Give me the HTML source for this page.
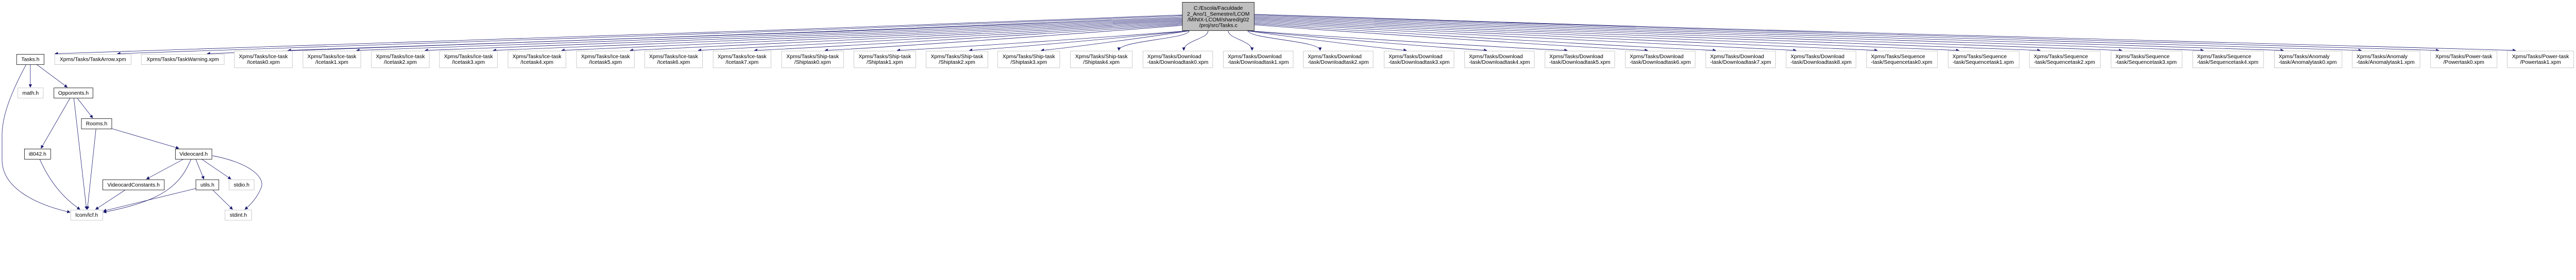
<!DOCTYPE html>
<html><head><meta charset="utf-8"><meta name="viewport" content="width=6280"><style>
html{margin:0;padding:0;background:#fff;overflow:hidden;}
body{margin:0;padding:0;background:#fff;overflow:hidden;font-family:"Liberation Sans",Arial,sans-serif;font-size:13px;color:#000;}
#w{position:absolute;left:0;top:0;width:6280px;height:544px;transform-origin:0 0;}
.n{position:absolute;box-sizing:border-box;background:#fff;border:1px solid #bfbfbf;line-height:14px;text-align:center;white-space:nowrap;overflow:hidden;}
.b{border:1px solid #000;}
.s{height:26px;padding-top:5px;}
.d{height:42px;padding-top:6px;top:124px;}
.l{text-align:left;padding-left:10px;}
svg{position:absolute;left:0;top:0;}
</style></head><body>
<div id="w">
<svg id="sv" width="6280" height="544" viewBox="0 0 6280 544">
<defs><marker id="a" viewBox="0 0 10 10" refX="9" refY="5" markerWidth="10" markerHeight="8" markerUnits="userSpaceOnUse" orient="auto"><path d="M0,0 L10,5 L0,10 z" fill="#191970"/></marker></defs>
<g fill="none" stroke="#191970" stroke-width="1" marker-end="url(#a)" id="eg">
<path d="M74,157 L74,213"/>
<path d="M89,157 L164,213"/>
<path d="M64,157 C30,220 5,280 5,330 L5,390 C5,460 90,500 171,518"/>
<path d="M171,239 L100,362"/>
<path d="M180,239 L211,511"/>
<path d="M188,239 L226,288"/>
<path d="M234,314 L213,511"/>
<path d="M273,314 L436,362"/>
<path d="M97,389 C120,440 150,480 195,511"/>
<path d="M448,388 L357,437"/>
<path d="M466,388 C440,450 400,490 252,518"/>
<path d="M477,388 L497,437"/>
<path d="M491,388 L563,437"/>
<path d="M518,380 C600,395 650,430 636,460 C625,485 610,500 597,511"/>
<path d="M306,463 L233,511"/>
<path d="M477,460 L252,515"/>
<path d="M518,463 L567,511"/>
</g></svg>

<div class="n b" style="left:2882px;top:5px;width:176px;height:70px;background:#bfbfbf;padding-top:7px;">C:/Escola/Faculdade<br>2_Ano/1_Semestre/LCOM<br>/MINIX-LCOM/shared/g02<br>/proj/src/Tasks.c</div>

<div class="n b s" style="left:40px;top:132px;width:68px;">Tasks.h</div>
<div class="n s" style="left:133px;top:132px;width:187px;">Xpms/Tasks/TaskArrow.xpm</div>
<div class="n s" style="left:344px;top:132px;width:203px;">Xpms/Tasks/TaskWarning.xpm</div>
<div class="n s" style="left:43px;top:214px;width:63px;">math.h</div>
<div class="n b s" style="left:131px;top:214px;width:96px;">Opponents.h</div>
<div class="n b s" style="left:198px;top:289px;width:75px;">Rooms.h</div>
<div class="n b s" style="left:59px;top:363px;width:65px;">i8042.h</div>
<div class="n b s" style="left:427px;top:363px;width:90px;">Videocard.h</div>
<div class="n b s" style="left:250px;top:438px;width:151px;">VideocardConstants.h</div>
<div class="n b s" style="left:477px;top:438px;width:57px;">utils.h</div>
<div class="n s" style="left:558px;top:438px;width:62px;">stdio.h</div>
<div class="n s" style="left:172px;top:512px;width:79px;">lcom/lcf.h</div>
<div class="n s" style="left:548px;top:512px;width:66px;">stdint.h</div>

<div class="n d" style="left:571px;width:142px;">Xpms/Tasks/Ice-task<br>/Icetask0.xpm</div>
<div class="n d" style="left:738px;width:142px;">Xpms/Tasks/Ice-task<br>/Icetask1.xpm</div>
<div class="n d" style="left:905px;width:142px;">Xpms/Tasks/Ice-task<br>/Icetask2.xpm</div>
<div class="n d" style="left:1071px;width:142px;">Xpms/Tasks/Ice-task<br>/Icetask3.xpm</div>
<div class="n d" style="left:1238px;width:142px;">Xpms/Tasks/Ice-task<br>/Icetask4.xpm</div>
<div class="n d" style="left:1405px;width:142px;">Xpms/Tasks/Ice-task<br>/Icetask5.xpm</div>
<div class="n d" style="left:1571px;width:142px;">Xpms/Tasks/Ice-task<br>/Icetask6.xpm</div>
<div class="n d" style="left:1738px;width:142px;">Xpms/Tasks/Ice-task<br>/Icetask7.xpm</div>
<div class="n d" style="left:1905px;width:152px;">Xpms/Tasks/Ship-task<br>/Shiptask0.xpm</div>
<div class="n d" style="left:2081px;width:152px;">Xpms/Tasks/Ship-task<br>/Shiptask1.xpm</div>
<div class="n d" style="left:2257px;width:152px;">Xpms/Tasks/Ship-task<br>/Shiptask2.xpm</div>
<div class="n d" style="left:2432px;width:152px;">Xpms/Tasks/Ship-task<br>/Shiptask3.xpm</div>
<div class="n d" style="left:2609px;width:152px;">Xpms/Tasks/Ship-task<br>/Shiptask4.xpm</div>
<div class="n d l" style="left:2786px;width:171px;">Xpms/Tasks/Download<br>-task/Downloadtask0.xpm</div>
<div class="n d l" style="left:2982px;width:171px;">Xpms/Tasks/Download<br>-task/Downloadtask1.xpm</div>
<div class="n d l" style="left:3177px;width:171px;">Xpms/Tasks/Download<br>-task/Downloadtask2.xpm</div>
<div class="n d l" style="left:3374px;width:171px;">Xpms/Tasks/Download<br>-task/Downloadtask3.xpm</div>
<div class="n d l" style="left:3570px;width:171px;">Xpms/Tasks/Download<br>-task/Downloadtask4.xpm</div>
<div class="n d l" style="left:3766px;width:171px;">Xpms/Tasks/Download<br>-task/Downloadtask5.xpm</div>
<div class="n d l" style="left:3962px;width:171px;">Xpms/Tasks/Download<br>-task/Downloadtask6.xpm</div>
<div class="n d l" style="left:4158px;width:171px;">Xpms/Tasks/Download<br>-task/Downloadtask7.xpm</div>
<div class="n d l" style="left:4354px;width:171px;">Xpms/Tasks/Download<br>-task/Downloadtask8.xpm</div>
<div class="n d l" style="left:4550px;width:174px;">Xpms/Tasks/Sequence<br>-task/Sequencetask0.xpm</div>
<div class="n d l" style="left:4749px;width:174px;">Xpms/Tasks/Sequence<br>-task/Sequencetask1.xpm</div>
<div class="n d l" style="left:4947px;width:174px;">Xpms/Tasks/Sequence<br>-task/Sequencetask2.xpm</div>
<div class="n d l" style="left:5146px;width:174px;">Xpms/Tasks/Sequence<br>-task/Sequencetask3.xpm</div>
<div class="n d l" style="left:5345px;width:174px;">Xpms/Tasks/Sequence<br>-task/Sequencetask4.xpm</div>
<div class="n d l" style="left:5544px;width:166px;">Xpms/Tasks/Anomaly<br>-task/Anomalytask0.xpm</div>
<div class="n d l" style="left:5734px;width:166px;">Xpms/Tasks/Anomaly<br>-task/Anomalytask1.xpm</div>
<div class="n d" style="left:5925px;width:163px;">Xpms/Tasks/Power-task<br>/Powertask0.xpm</div>
<div class="n d" style="left:6112px;width:163px;">Xpms/Tasks/Power-task<br>/Powertask1.xpm</div>
</div>
<script>
(function(){
var g=document.getElementById('eg');
var T=[[74,132]];
T.push([226,132],[445,132]);
[571,738,905,1071,1238,1405,1571,1738].forEach(function(x){T.push([x+71,124]);});
[1905,2081,2257,2432,2609].forEach(function(x){T.push([x+76,124]);});
[2786,2982,3177,3374,3570,3766,3962,4158,4354].forEach(function(x){T.push([x+85,124]);});
[4550,4749,4947,5146,5345].forEach(function(x){T.push([x+87,124]);});
[5544,5734].forEach(function(x){T.push([x+83,124]);});
[5925,6112].forEach(function(x){T.push([x+81,124]);});
var cx=2970;
T.forEach(function(t){
 var tx=t[0],ty=t[1],d=tx-cx,ad=Math.abs(d),sx,sy,ex,ey,p;
 var f=Math.min(1,ad/3000);
 if(ad<450){
  sx=cx+d*0.25; sy=75; ex=tx-d*0.15; ey=ty;
  p='M'+sx+','+sy+' C'+sx+','+(sy+20)+' '+ex+','+(ey-25)+' '+ex+','+(ey-1);
 } else {
  sx=d<0?2882:3058; sy=75-f*40;
  if(ad<900){sx=cx+(d<0?-1:1)*70; sy=75;}
  ex=tx-(d<0?-1:1)*(ad>1200?60:30); ey=ty;
  var c1x=sx+(ex-sx)*0.35, c1y=sy+(ey-sy)*0.4;
  var c2x=ex-(ex-sx)*0.15, c2y=ey-(ey-sy)*0.12;
  p='M'+sx+','+sy+' C'+c1x+','+c1y+' '+c2x+','+c2y+' '+ex+','+(ey-1);
 }
 var e=document.createElementNS('http://www.w3.org/2000/svg','path');
 e.setAttribute('d',p);g.appendChild(e);
});
function fit(){
 var vw=window.innerWidth||document.documentElement.clientWidth||6280;
 var s=vw/6280; if(!(s>0)) s=1; if(Math.abs(s-1)<0.01) s=1;
 document.getElementById('w').style.transform=s===1?'none':'scale('+s+')';
}
fit();
window.addEventListener('resize',fit);
})();
</script>
</body></html>
